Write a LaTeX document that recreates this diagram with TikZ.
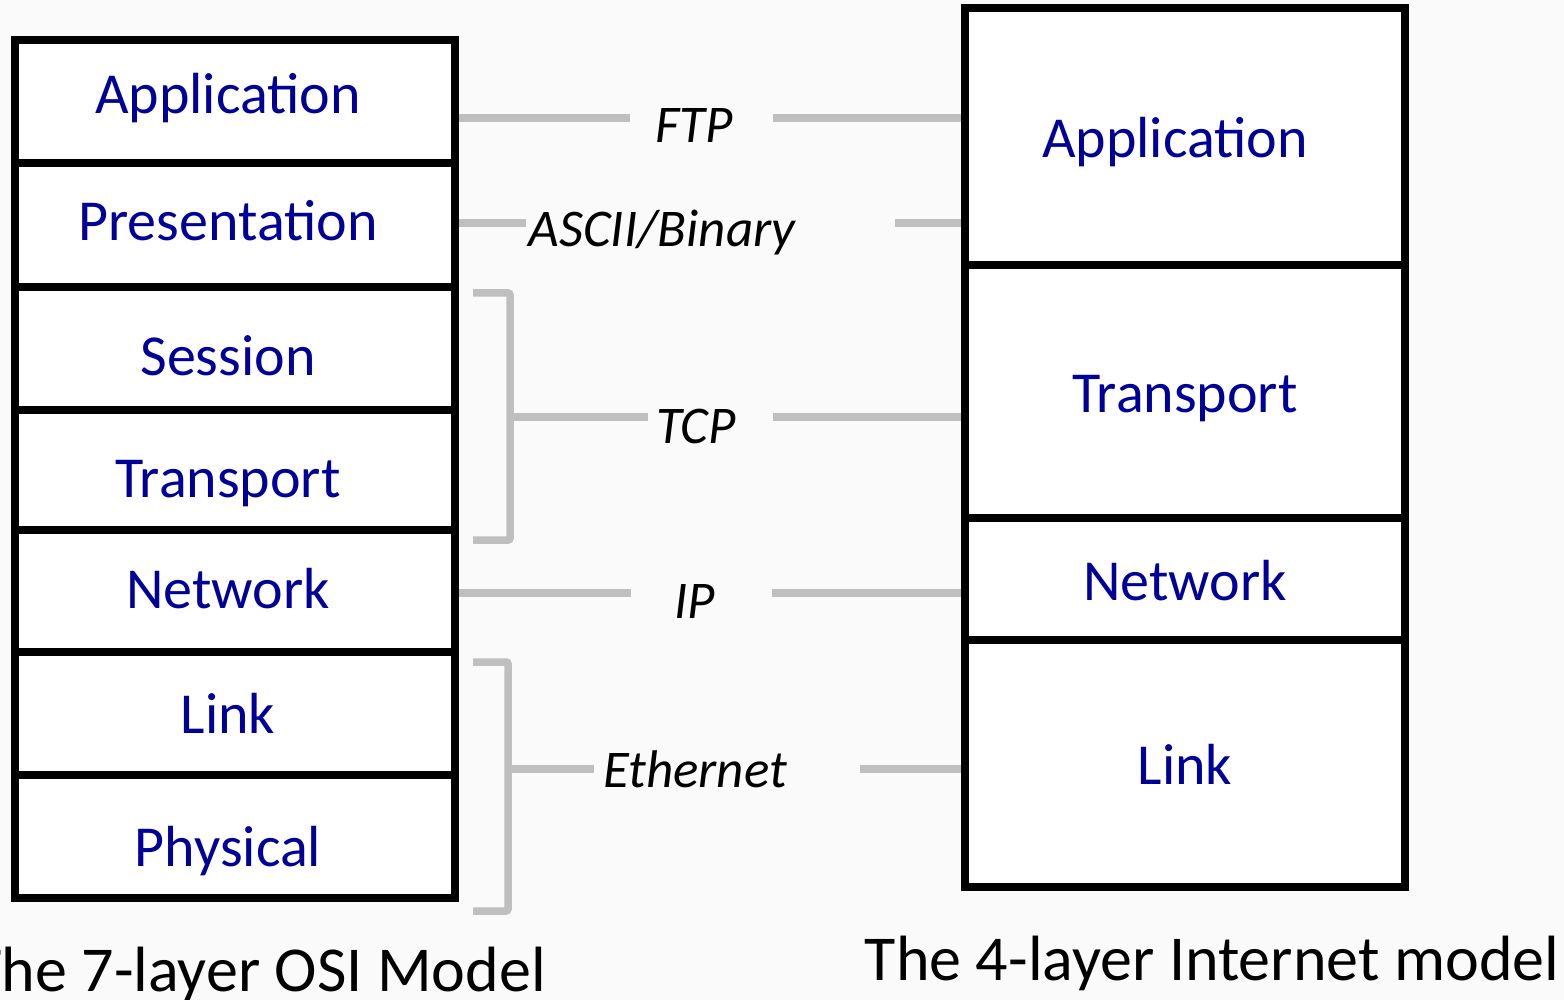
\documentclass[tikz,border=0pt]{standalone}
\usepackage{fontspec}
\setmainfont{Carlito}
\usetikzlibrary{positioning}
\definecolor{layerblue}{RGB}{0,0,153}
\definecolor{wiregray}{RGB}{191,191,191}
\definecolor{paper}{RGB}{250,250,250}

\begin{document}
\begin{tikzpicture}[x=1pt,y=-1pt,node distance=0pt,
	layer/.style={rectangle,draw=black,fill=white,line width=8pt,inner sep=0pt,outer sep=0pt,
		minimum width=440pt,text=layerblue,font=\fontsize{58}{70}\selectfont,
		text height=#1,text depth=0pt},
	layer/.default=42pt,
	osi/.style={layer=#1,execute at end node={\kern14pt}},
	proto/.style={font=\fontsize{53}{64}\selectfont\itshape,inner sep=0pt,anchor=base},
	wire/.style={draw=wiregray,line width=7.5pt},
	brace/.style={draw=wiregray,line width=7.5pt,rounded corners=2pt},
	caption/.style={font=\fontsize{64}{76}\selectfont,inner sep=0pt}]

	\path[use as bounding box,fill=paper] (0,0) rectangle (1564,1000);

	% OSI stack
	\node[osi=25pt,minimum height=123pt] (appL) at (235,101.5) {Application};
	\node[osi=32pt,minimum height=124pt,below=of appL] (presL) {Presentation};
	\node[osi=53pt,minimum height=123pt,below=of presL] (sessL) {Session};
	\node[osi=54pt,minimum height=120pt,below=of sessL] (transL) {Transport};
	\node[osi=34pt,minimum height=122pt,below=of transL] (netL) {Network};
	\node[osi=40pt,minimum height=123pt,below=of netL] (linkL) {Link};
	\node[osi=60pt,minimum height=123pt,below=of linkL] (physL) {Physical};

	% Internet stack
	\node[layer,minimum height=257pt,execute at end node={\kern20pt}] (appR) at (1185,136.5) {Application};
	\node[layer,minimum height=253pt,below=of appR] (transR) {Transport};
	\node[layer,minimum height=122pt,below=of transR] (netR) {Network};
	\node[layer,minimum height=247pt,below=of netR] (linkR) {Link};

	% protocols
	\node[proto] (ftp) at (694,143) {FTP};
	\node[proto] (ascii) at (662,247) {ASCII/Binary};
	\node[proto] (tcp) at (696,443) {TCP};
	\node[proto] (ip) at (695,618) {IP};
	\node[proto] (eth) at (695,787) {Ethernet};

	\coordinate (ftp-a) at (630,118);
	\coordinate (ftp-b) at (773,118);
	\coordinate (asc-a) at (526,223);
	\coordinate (asc-b) at (895,223);
	\coordinate (tcp-s) at (510,417);
	\coordinate (tcp-a) at (648,417);
	\coordinate (tcp-b) at (773,417);
	\coordinate (ip-a) at (631,593);
	\coordinate (ip-b) at (772,593);
	\coordinate (eth-s) at (508,769);
	\coordinate (eth-a) at (594,769);
	\coordinate (eth-b) at (860,769);

	\draw[wire,shorten <=4pt] (appL.east |- ftp-a) -- (ftp-a);
	\draw[wire,shorten >=4pt] (ftp-b) -- (appR.west |- ftp-b);
	\draw[wire,shorten <=4pt] (presL.east |- asc-a) -- (asc-a);
	\draw[wire,shorten >=4pt] (asc-b) -- (appR.west |- asc-b);
	\draw[wire,shorten <=4pt] (netL.east |- ip-a) -- (ip-a);
	\draw[wire,shorten >=4pt] (ip-b) -- (netR.west |- ip-b);

	% brackets
	\draw[brace] ([shift={(18,6)}]sessL.north east) -| ([shift={(55,10)}]transL.south east) -- ++(-37,0);
	\draw[wire] (tcp-s) -- (tcp-a);
	\draw[wire,shorten >=4pt] (tcp-b) -- (transR.west |- tcp-b);
	\draw[brace] ([shift={(18,10)}]linkL.north east) -| ([shift={(53,13)}]physL.south east) -- ++(-35,0);
	\draw[wire] (eth-s) -- (eth-a);
	\draw[wire,shorten >=4pt] (eth-b) -- (linkR.west |- eth-b);

	% captions
	\node[caption,anchor=base east] (osiCap) at (546,991) {The 7-layer OSI Model};
	\node[caption,anchor=base] (inetCap) at (1212,980) {The 4-layer Internet model};
\end{tikzpicture}
\end{document}
